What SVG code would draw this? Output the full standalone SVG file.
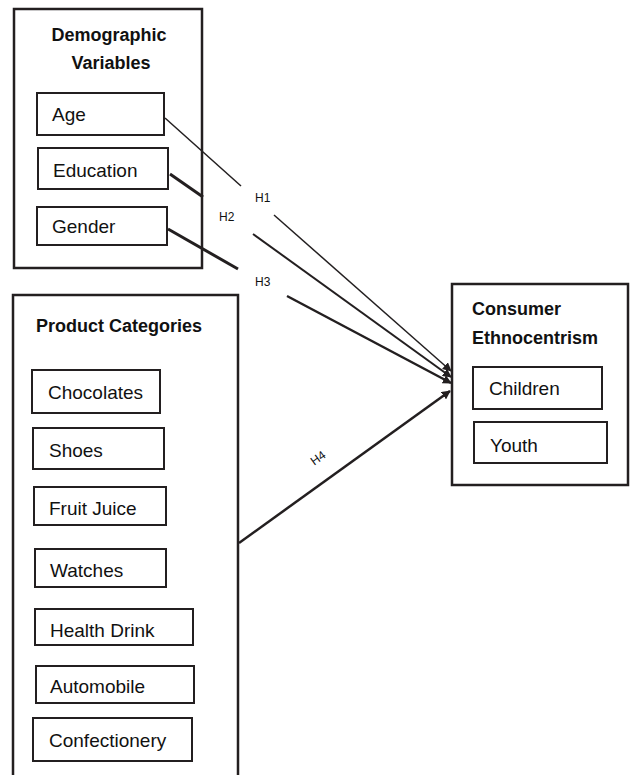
<svg xmlns="http://www.w3.org/2000/svg" width="630" height="775" viewBox="0 0 630 775">
<style>
  .outer { fill: #fff; stroke: #231f20; stroke-width: 2.5; }
  .inner { fill: #fff; stroke: #231f20; stroke-width: 2; }
  .title { font-family: "Liberation Sans", Arial, sans-serif; font-weight: bold; font-size: 18px; fill: #111; }
  .lbl { font-family: "Liberation Sans", Arial, sans-serif; font-size: 19px; fill: #111; }
  .h { font-family: "Liberation Sans", Arial, sans-serif; font-size: 12px; fill: #111; }
  .conn { stroke: #231f20; fill: none; stroke-linecap: butt; }
</style>
<defs>
  <marker id="arr" viewBox="0 0 10 10" refX="9" refY="5" markerWidth="9" markerHeight="9" markerUnits="userSpaceOnUse" orient="auto">
    <path d="M0,0 L10,5 L0,10 z" fill="#231f20"/>
  </marker>
</defs>
<rect width="630" height="775" fill="#fff"/>

<g id="demographic">
  <rect class="outer" x="14" y="9" width="188" height="259"/>
  <text class="title" x="109" y="41" text-anchor="middle">Demographic</text>
  <text class="title" x="111" y="69" text-anchor="middle">Variables</text>
</g>
<g id="age">
  <rect class="inner" x="37" y="93" width="127" height="42"/>
  <text class="lbl" x="52" y="121">Age</text>
</g>
<g id="education">
  <rect class="inner" x="38" y="148" width="130" height="41"/>
  <text class="lbl" x="53" y="177">Education</text>
</g>
<g id="gender">
  <rect class="inner" x="37" y="207" width="130" height="38"/>
  <text class="lbl" x="52" y="233">Gender</text>
</g>

<g id="product-categories">
  <path class="outer" d="M13,776 L13,295 L238,295 L238,776"/>
  <text class="title" x="36" y="332">Product Categories</text>
</g>
<g id="chocolates">
  <rect class="inner" x="32" y="370" width="128" height="43"/>
  <text class="lbl" x="48" y="399">Chocolates</text>
</g>
<g id="shoes">
  <rect class="inner" x="33" y="428" width="131" height="41"/>
  <text class="lbl" x="49" y="457">Shoes</text>
</g>
<g id="fruit-juice">
  <rect class="inner" x="34" y="487" width="132" height="38"/>
  <text class="lbl" x="49" y="515">Fruit Juice</text>
</g>
<g id="watches">
  <rect class="inner" x="35" y="549" width="131" height="38"/>
  <text class="lbl" x="50" y="577">Watches</text>
</g>
<g id="health-drink">
  <rect class="inner" x="35" y="609" width="158" height="36"/>
  <text class="lbl" x="50" y="637">Health Drink</text>
</g>
<g id="automobile">
  <rect class="inner" x="36" y="666" width="158" height="37"/>
  <text class="lbl" x="50" y="693">Automobile</text>
</g>
<g id="confectionery">
  <rect class="inner" x="33" y="718" width="159" height="43"/>
  <text class="lbl" x="49" y="747">Confectionery</text>
</g>

<g id="consumer-ethnocentrism">
  <rect class="outer" x="452" y="284" width="176" height="201"/>
  <text class="title" x="472" y="315">Consumer</text>
  <text class="title" x="472" y="344">Ethnocentrism</text>
</g>
<g id="children">
  <rect class="inner" x="473" y="367" width="129" height="42"/>
  <text class="lbl" x="489" y="395">Children</text>
</g>
<g id="youth">
  <rect class="inner" x="474" y="422" width="133" height="41"/>
  <text class="lbl" x="490" y="452">Youth</text>
</g>

<g id="connectors">
  <line class="conn" x1="165" y1="118" x2="241" y2="186" stroke-width="1.5"/>
  <line class="conn" x1="274" y1="215" x2="451" y2="371" stroke-width="1.5" marker-end="url(#arr)"/>
  <line class="conn" x1="170" y1="174" x2="203" y2="197" stroke-width="3"/>
  <line class="conn" x1="253" y1="234" x2="451" y2="377" stroke-width="2" marker-end="url(#arr)"/>
  <line class="conn" x1="168" y1="229" x2="238" y2="269" stroke-width="3"/>
  <line class="conn" x1="287" y1="296" x2="451" y2="383" stroke-width="2.5" marker-end="url(#arr)"/>
  <line class="conn" x1="239" y1="543" x2="450" y2="391" stroke-width="2.5" marker-end="url(#arr)"/>
  <text class="h" x="255" y="202">H1</text>
  <text class="h" x="219" y="221">H2</text>
  <text class="h" x="255" y="286">H3</text>
  <text class="h" x="318" y="462" text-anchor="middle" transform="rotate(-36 318 458)">H4</text>
</g>
</svg>
